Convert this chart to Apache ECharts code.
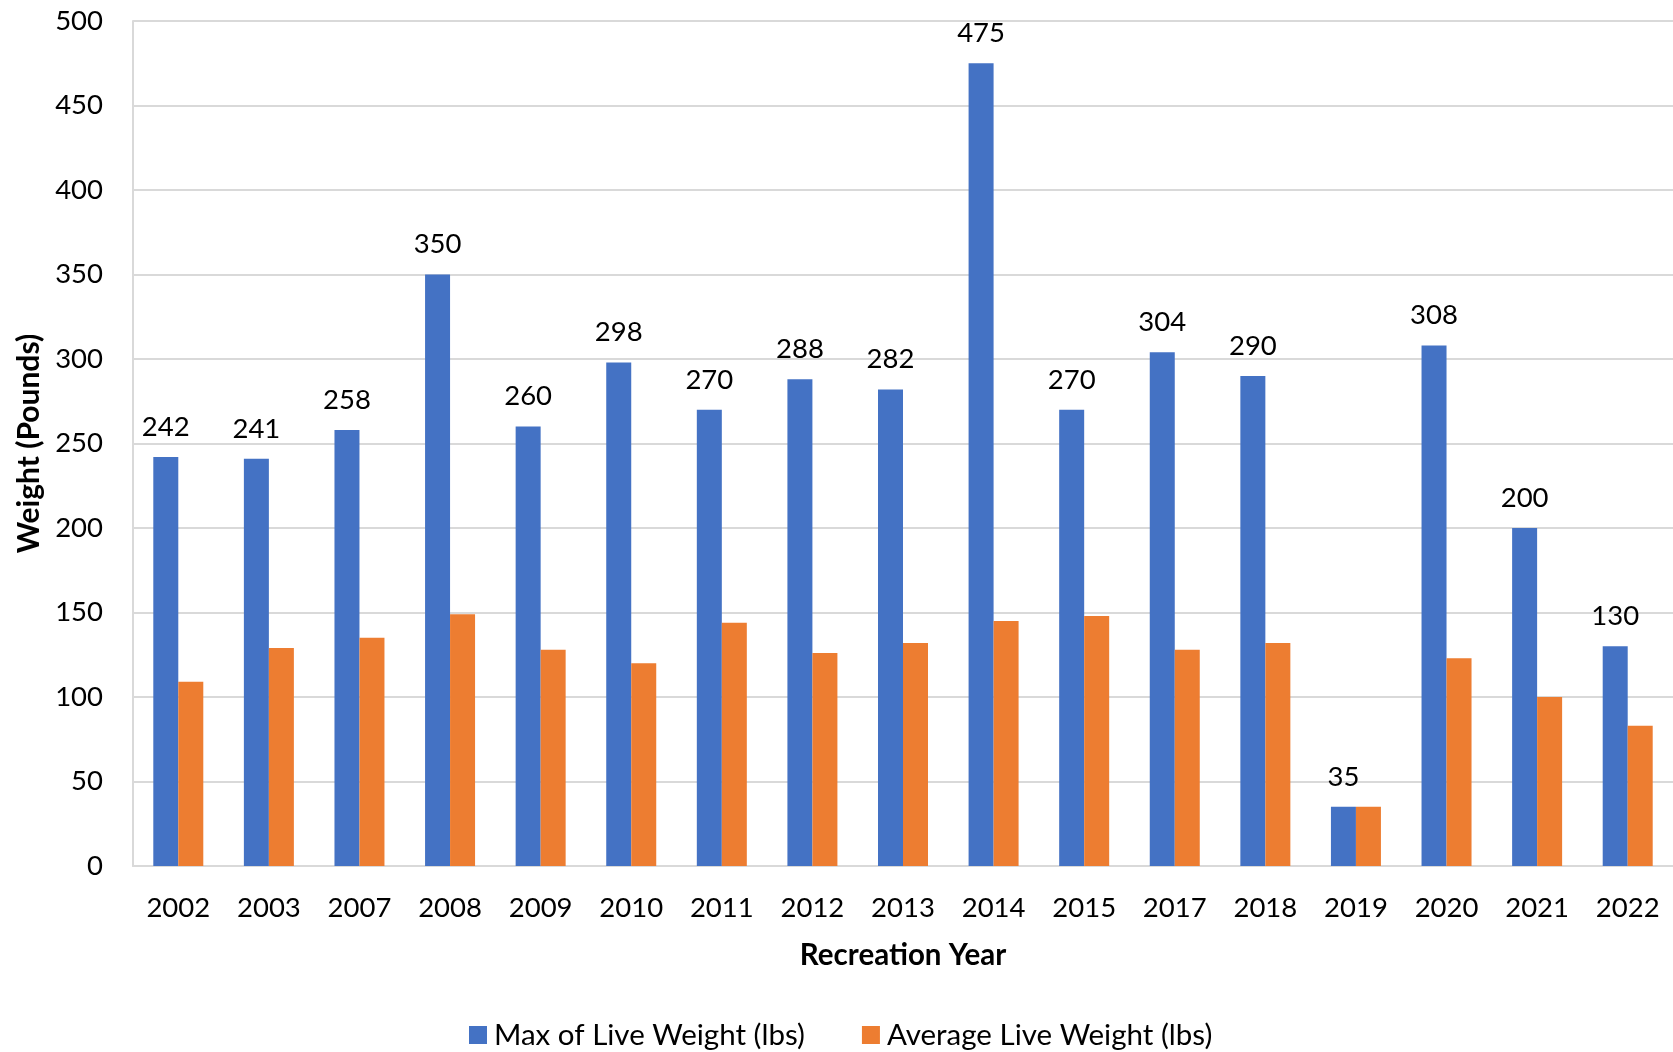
<!DOCTYPE html>
<html>
<head>
<meta charset="utf-8">
<script src="https://cdn.jsdelivr.net/npm/echarts@6/dist/echarts.min.js"></script>
<style>
    html, body { margin: 0; padding: 0; background: #fff; }
    #chart1 { width: 1673px; height: 1052px; }
</style>
</head>
<body>
<div id="chart1"></div>
<script>
    // data
    const years = ['2002', '2003', '2007', '2008', '2009', '2010', '2011', '2012', '2013',
        '2014', '2015', '2017', '2018', '2019', '2020', '2021', '2022'];
    const maxWeight = [242, 241, 258, 350, 260, 298, 270, 288, 282, 475, 270, 304, 290, 35, 308, 200, 130];
    const avgWeight = [109, 129, 135, 149, 128, 120, 144, 126, 132, 145, 148, 128, 132, 35, 123, 100, 83];

    const font = 'Lato, "Open Sans", sans-serif';
    const myChart = echarts.init(document.getElementById('chart1'));
    const option = {
        animation: false,
        color: ['#4472C4', '#ED7D31'],
        textStyle: { fontFamily: font },
        grid: {
            left: 133,
            right: 0,
            top: 21,
            bottom: 186
        },
        legend: {
            left: 464,
            top: 1015,
            itemWidth: 18,
            itemHeight: 18,
            itemGap: 57,
            icon: 'rect',
            textStyle: { fontSize: 29.5, color: '#000', fontFamily: font, padding: [0, 0, 0, 2] },
            data: ['Max of Live Weight (lbs)', 'Average Live Weight (lbs)']
        },
        xAxis: {
            type: 'category',
            data: years,
            name: 'Recreation Year',
            nameLocation: 'middle',
            nameGap: 74,
            nameTextStyle: { fontSize: 29.5, fontWeight: 'bold', color: '#000', fontFamily: font },
            axisLine: { lineStyle: { color: '#d9d9d9', width: 2 } },
            axisTick: { show: false },
            axisLabel: { fontSize: 27.5, color: '#000', margin: 28, fontFamily: font }
        },
        yAxis: {
            type: 'value',
            min: 0,
            max: 500,
            interval: 50,
            name: 'Weight (Pounds)',
            nameLocation: 'middle',
            nameGap: 89,
            nameTextStyle: { fontSize: 30, fontWeight: 'bold', color: '#000', fontFamily: font },
            axisLine: { show: true, lineStyle: { color: '#d9d9d9', width: 2 } },
            axisTick: { show: false },
            splitLine: { lineStyle: { color: '#d9d9d9', width: 2 } },
            axisLabel: { fontSize: 27.5, color: '#000', margin: 30, fontFamily: font }
        },
        series: [
            {
                name: 'Max of Live Weight (lbs)',
                type: 'bar',
                data: maxWeight,
                barWidth: 25,
                barGap: '0%',
                label: {
                    show: true,
                    position: 'top',
                    distance: 16,
                    fontSize: 27.5,
                    color: '#000',
                    fontFamily: font
                }
            },
            {
                name: 'Average Live Weight (lbs)',
                type: 'bar',
                data: avgWeight,
                barWidth: 25,
                barGap: '0%'
            }
        ]
    };
    myChart.setOption(option);
</script>
</body>
</html>
